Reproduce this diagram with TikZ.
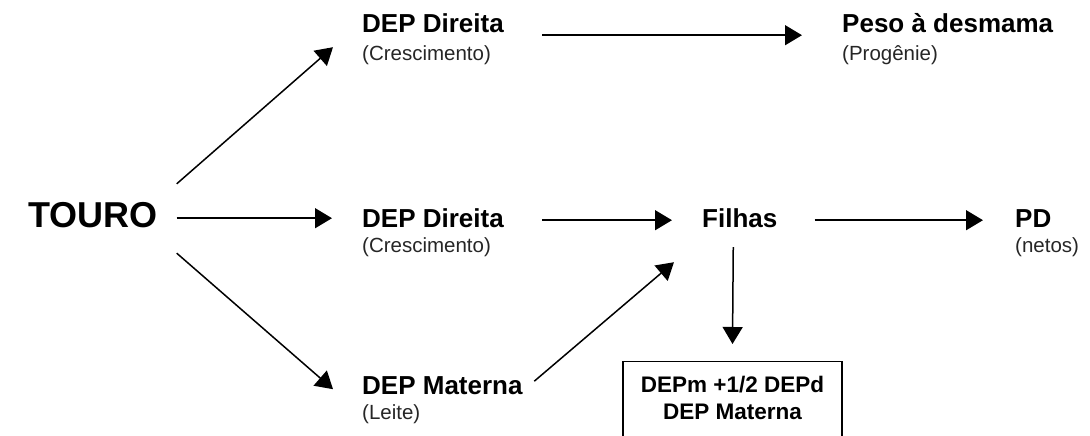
\documentclass[tikz,border=0pt]{standalone}
\usepackage{fontspec}
\setmainfont{Liberation Sans}
\usetikzlibrary{arrows.meta}
\begin{document}
\begin{tikzpicture}[x=1pt,y=1pt,
    every node/.style={inner sep=0pt,anchor=base west},
    ttl/.style={font=\fontsize{26}{30}\selectfont\bfseries,text height=19pt,text depth=0pt},
    sub/.style={font=\fontsize{20.5}{24}\selectfont,text=black!85},
    boxed/.style={draw,line width=1.3pt,anchor=north,align=center,minimum width=219pt,
      inner ysep=15pt,font=\fontsize{22.5}{27}\selectfont\bfseries},
    arr/.style={-{Triangle[length=17pt,width=20pt]},line width=1.5pt}]
  \useasboundingbox (0,0) rectangle (1090,-436);
  \node[font=\fontsize{36}{40}\selectfont\bfseries,text height=26pt,text depth=0pt] (touro) at (28,-227) {TOURO};
  \node[ttl] (d1) at (362,-33) {DEP Direita};
  \node[sub] (d1s) at (362,-60) {(Crescimento)};
  \node[ttl] (d2) at (362,-227) {DEP Direita};
  \node[sub] (d2s) at (362,-252) {(Crescimento)};
  \node[ttl] (mat) at (362,-394) {DEP Materna};
  \node[sub] (mats) at (362,-419) {(Leite)};
  \node[ttl] (peso) at (842,-33) {Peso à desmama};
  \node[sub] (pesos) at (842,-60) {(Progênie)};
  \node[ttl] (fil) at (702,-227) {Filhas};
  \node[ttl] (pd) at (1015,-227) {PD};
  \node[sub] (pds) at (1015,-252) {(netos)};
  \node[boxed] (box) at (732.5,-361) {DEPm +1/2 DEPd\\DEP Materna\rule[-16pt]{0pt}{16pt}};
  \draw[arr] ([shift={(19,17)}]touro.north east) -- ([shift={(-29,-14)}]d1.south west);
  \draw[arr] ([shift={(19,9)}]touro.south east) -- ([shift={(-30,9)}]d2.south west);
  \draw[arr] ([shift={(19,-26)}]touro.south east) -- ([shift={(-29,5)}]mat.south west);
  \draw[arr] ([shift={(38,-2)}]d1.south east) -- ([shift={(-40,-2)}]peso.south west);
  \draw[arr] ([shift={(38,7)}]d2.south east) -- ([shift={(-30,7)}]fil.south west);
  \draw[arr] ([shift={(11.5,13)}]mat.south east) -- ([shift={(-28,-35)}]fil.south west);
  \draw[arr] ([shift={(37,7)}]fil.south east) -- ([shift={(-32,7)}]pd.south west);
  \draw[arr] ([shift={(-6.5,-20)}]fil.south) -- ([yshift=17]box.north);
\end{tikzpicture}
\end{document}
